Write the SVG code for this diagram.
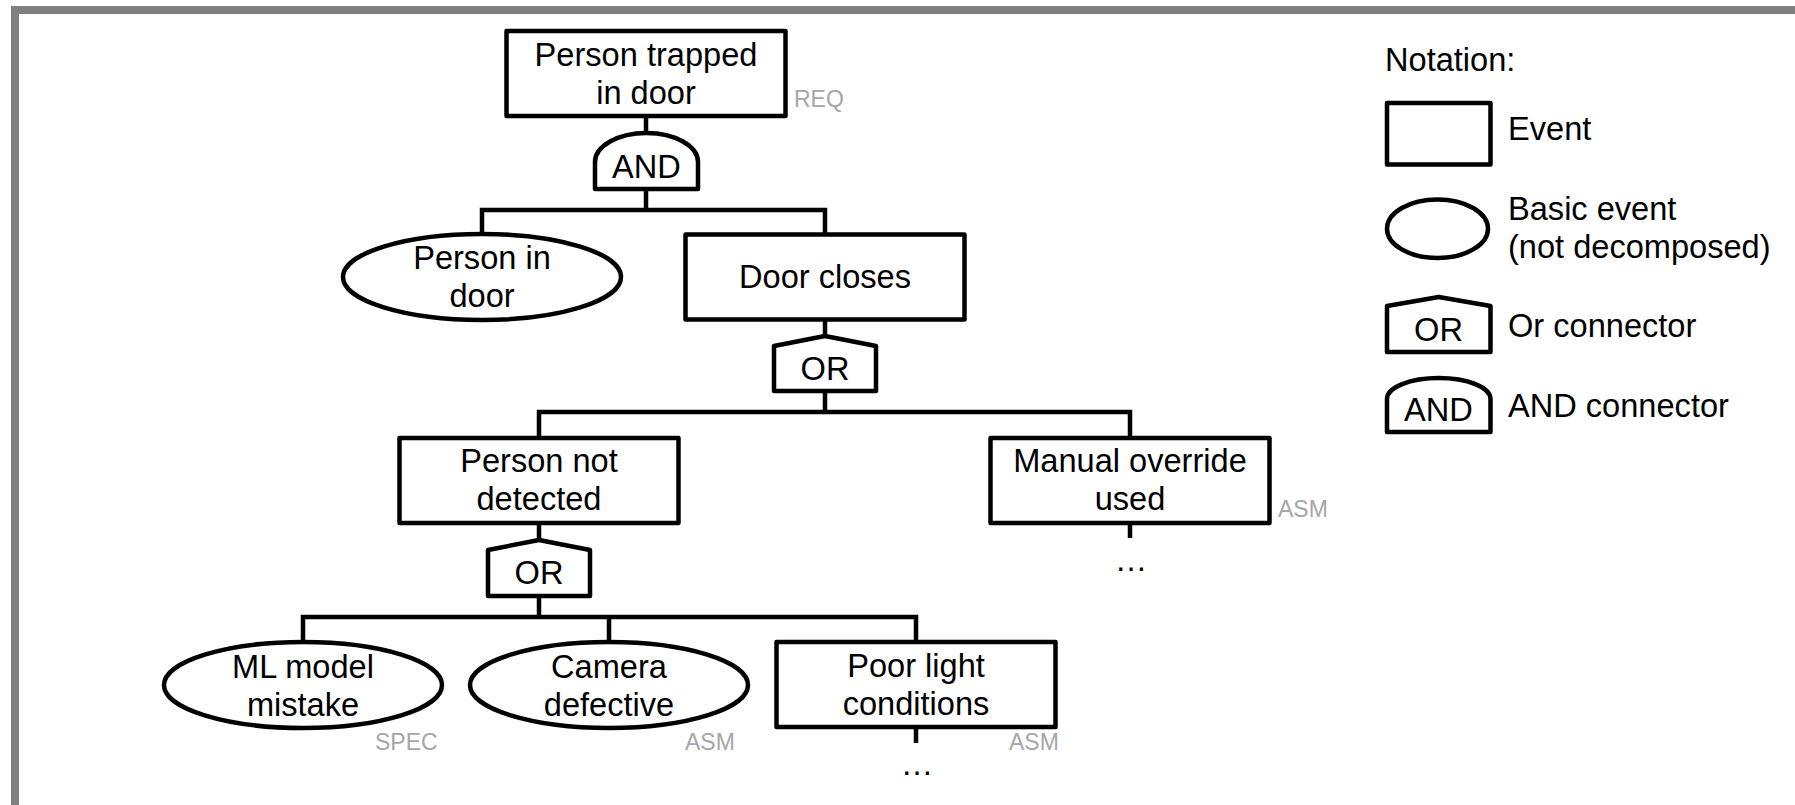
<svg xmlns="http://www.w3.org/2000/svg" width="1795" height="805" viewBox="0 0 1795 805">
<style>
.shape{fill:#fff;stroke:#000;stroke-width:4.5;stroke-linejoin:round}
.wire{fill:none;stroke:#000;stroke-width:4.5;stroke-linejoin:miter;stroke-linecap:butt}
.t{font-family:"Liberation Sans",Arial,sans-serif;font-size:32.6px;fill:#000;text-anchor:middle}
.l{font-family:"Liberation Sans",Arial,sans-serif;font-size:32.6px;fill:#000}
.g{font-family:"Liberation Sans",Arial,sans-serif;font-size:23px;fill:#a6a6a6}
</style>
<rect x="0" y="0" width="1795" height="805" fill="#fff"/>
<rect x="15" y="10" width="1800" height="820" fill="none" stroke="#808080" stroke-width="8"/>

<g id="connectors">
  <path class="wire" d="M646,116 V133"/>
  <path class="wire" d="M646,189 V210"/>
  <path class="wire" d="M482,234 V210 H825 V234.5"/>
  <path class="wire" d="M825,319.5 V336"/>
  <path class="wire" d="M825,391 V412"/>
  <path class="wire" d="M539,438 V412 H1130 V438"/>
  <path class="wire" d="M539,523 V540"/>
  <path class="wire" d="M539,596 V617"/>
  <path class="wire" d="M303,642 V617 H916 V642"/>
  <path class="wire" d="M609,617 V642"/>
  <path class="wire" d="M1130,523 V538"/>
  <path class="wire" d="M916,727 V743"/>
</g>

<g id="n-trapped">
  <rect class="shape" x="506.5" y="31" width="279" height="85"/>
  <text class="t" x="646" y="66">Person trapped</text>
  <text class="t" x="646" y="104">in door</text>
  <text class="g" x="794" y="107">REQ</text>
</g>

<g id="g-and">
  <path class="shape" d="M595,189 V162 A51.5,29 0 0 1 698,162 V189 Z"/>
  <text class="t" x="646.5" y="178">AND</text>
</g>

<g id="n-person-in-door">
  <ellipse class="shape" cx="482" cy="277" rx="139" ry="43"/>
  <text class="t" x="482" y="269">Person in</text>
  <text class="t" x="482" y="307">door</text>
</g>

<g id="n-door-closes">
  <rect class="shape" x="685.5" y="234.5" width="279" height="85"/>
  <text class="t" x="825" y="288">Door closes</text>
</g>

<g id="g-or1">
  <path class="shape" d="M774,391 V346 L825,336 L876,346 V391 Z"/>
  <text class="t" x="825" y="380">OR</text>
</g>

<g id="n-not-detected">
  <rect class="shape" x="399.5" y="438" width="279" height="85"/>
  <text class="t" x="539" y="472">Person not</text>
  <text class="t" x="539" y="510">detected</text>
</g>

<g id="n-manual">
  <rect class="shape" x="990.5" y="438" width="279" height="85"/>
  <text class="t" x="1130" y="472">Manual override</text>
  <text class="t" x="1130" y="510">used</text>
  <text class="g" x="1278" y="517">ASM</text>
  <text class="t" x="1131" y="571">…</text>
</g>

<g id="g-or2">
  <path class="shape" d="M488,596 V550 L539,540 L590,550 V596 Z"/>
  <text class="t" x="539" y="584">OR</text>
</g>

<g id="n-ml">
  <ellipse class="shape" cx="303" cy="685" rx="139" ry="43"/>
  <text class="t" x="303" y="678">ML model</text>
  <text class="t" x="303" y="716">mistake</text>
  <text class="g" x="375" y="750">SPEC</text>
</g>

<g id="n-camera">
  <ellipse class="shape" cx="609" cy="685" rx="139" ry="43"/>
  <text class="t" x="609" y="678">Camera</text>
  <text class="t" x="609" y="716">defective</text>
  <text class="g" x="685" y="750">ASM</text>
</g>

<g id="n-light">
  <rect class="shape" x="776.5" y="642" width="279" height="85"/>
  <text class="t" x="916" y="677">Poor light</text>
  <text class="t" x="916" y="715">conditions</text>
  <text class="g" x="1009" y="750">ASM</text>
  <text class="t" x="917" y="775">…</text>
</g>

<g id="legend">
  <text class="l" x="1385" y="71">Notation:</text>
  <rect class="shape" x="1387" y="103" width="103.5" height="61.5"/>
  <text class="l" x="1508" y="140">Event</text>
  <ellipse class="shape" cx="1437.5" cy="228.7" rx="50.5" ry="29.3"/>
  <text class="l" x="1508" y="220">Basic event</text>
  <text class="l" x="1508" y="258">(not decomposed)</text>
  <path class="shape" d="M1387,352 V306 L1438.75,297 L1490.5,306 V352 Z"/>
  <text class="t" x="1438.5" y="341">OR</text>
  <text class="l" x="1508" y="337">Or connector</text>
  <path class="shape" d="M1387,432 V399 A51.75,21 0 0 1 1490.5,399 V432 Z"/>
  <text class="t" x="1438.5" y="421">AND</text>
  <text class="l" x="1508" y="417">AND connector</text>
</g>
</svg>
